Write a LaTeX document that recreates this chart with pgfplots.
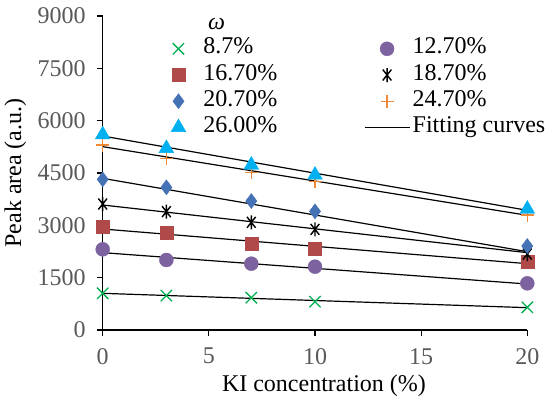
\documentclass[border=0pt]{standalone}
\usepackage{fontspec}
\setmainfont{Liberation Serif}
\usepackage{pgfplots}
\pgfplotsset{compat=1.18}
\definecolor{cgreen}{HTML}{00B050}
\definecolor{cpurple}{HTML}{7D62A0}
\definecolor{cred}{HTML}{B04A48}
\definecolor{cblue}{HTML}{4572B5}
\definecolor{ccyan}{HTML}{00B0F0}
\definecolor{corange}{HTML}{F08A3A}
\definecolor{tickgray}{HTML}{595959}
\newcommand{\fs}{\fontsize{24bp}{28bp}\selectfont}
\pgfdeclareplotmark{xast}{%
  \pgfpathmoveto{\pgfqpoint{0pt}{\pgfplotmarksize}}%
  \pgfpathlineto{\pgfqpoint{0pt}{-\pgfplotmarksize}}%
  \pgfpathmoveto{\pgfqpoint{-0.62\pgfplotmarksize}{-0.78\pgfplotmarksize}}%
  \pgfpathlineto{\pgfqpoint{0.62\pgfplotmarksize}{0.78\pgfplotmarksize}}%
  \pgfpathmoveto{\pgfqpoint{-0.62\pgfplotmarksize}{0.78\pgfplotmarksize}}%
  \pgfpathlineto{\pgfqpoint{0.62\pgfplotmarksize}{-0.78\pgfplotmarksize}}%
  \pgfusepathqstroke}
\pgfplotsset{
  mk/.style={only marks,
    legend image code/.code={\path[draw=none,fill=none] (0bp,0bp) -- (45bp,0bp);
      \draw[mark repeat=1] plot coordinates {(22.5bp,0bp)};}},
  fit/.style={black, line width=1.2bp, no marks, forget plot},
}
\begin{document}
\fs
\begin{tikzpicture}
\begin{axis}[
  name=ax, at={(0,0)}, anchor=south west,
  scale only axis, width=424.6bp, height=314bp,
  xmin=0, xmax=20, ymin=0, ymax=9000,
  axis x line*=bottom, axis y line*=left,
  axis line style={black, line width=1.2bp, -},
  xtick={0,5,10,15,20}, ytick={0,1500,3000,4500,6000,7500,9000},
  tick align=outside, major tick length=6bp,
  tick style={black, line width=1.2bp},
  tick label style={color=tickgray, font=\fs},
  /pgf/number format/assume math mode=true,
  /pgf/number format/1000 sep={},
  yticklabel style={xshift=-3bp},
  xticklabel style={yshift=-4bp},
  xlabel={KI concentration (\%)},
  ylabel={Peak area (a.u.)},
  label style={font=\fs},
  xlabel style={yshift=6bp, xshift=9bp},
  ylabel style={yshift=-5bp},
  clip=false,
  legend columns=2,
  legend cell align=left,
  legend style={draw=none, fill=none, at={(axis description cs:0.125,0.928)}, anchor=north west,
    inner sep=0pt, row sep=6.2bp, font=\fs,
    nodes={inner xsep=2.5bp, inner ysep=0pt, text height=15bp, text depth=5bp},
    /tikz/every even column/.append style={column sep=84bp}},
]
\addplot[mk, mark=x, mark size=8bp, cgreen, line width=1.3bp] coordinates {(0,1051) (3,984) (7,927) (10,812) (20,650)};
\addlegendentry{8.7\%}
\addplot[mk, mark=*, mark size=7bp, cpurple, fill=cpurple] coordinates {(0,2312) (3,2006) (7,1901) (10,1815) (20,1338)};
\addlegendentry{12.70\%}
\addplot[mk, mark=square*, mark size=6.6bp, cred, fill=cred] coordinates {(0,2952) (3,2790) (7,2484) (10,2341) (20,1949)};
\addlegendentry{16.70\%}
\addplot[mk, mark=xast, mark size=7bp, black, line width=1.4bp] coordinates {(0,3611) (3,3392) (7,3086) (10,2885) (20,2178)};
\addlegendentry{18.70\%}
\addplot[mk, mark=diamond*, mark size=7.5bp, cblue, fill=cblue] coordinates {(0,4318) (3,4089) (7,3697) (10,3401) (20,2408)};
\addlegendentry{20.70\%}
\addplot[mk, mark=+, mark size=6.5bp, corange, line width=1.3bp] coordinates {(0,5302) (3,4920) (7,4519) (10,4252) (20,3296)};
\addlegendentry{24.70\%}
\addplot[mk, mark=triangle*, mark size=8.5bp, ccyan, fill=ccyan] coordinates {(0,5600) (3,5207) (7,4729) (10,4443) (20,3468)};
\addlegendentry{26.00\%}
\addplot[fit] coordinates {(0,1051) (20,640)};
\addplot[fit] coordinates {(0,2217) (20,1318)};
\addplot[fit] coordinates {(0,2895) (20,1901)};
\addplot[fit] coordinates {(0,3583) (20,2217)};
\addplot[fit] coordinates {(0,4347) (20,2245)};
\addplot[fit] coordinates {(0,5255) (20,3287)};
\addplot[black, line width=1.2bp, no marks,
  legend image code/.code={\draw[black, line width=1.2bp] (0bp,0bp) -- (45bp,0bp);}]
  coordinates {(0,5560) (20,3430)};
\addlegendentry{Fitting curves}
\node[font=\fs\itshape] at (axis cs:5.37,8780) {ω};
\end{axis}
\pgfresetboundingbox
\path (ax.south west) ++(-102.7bp,-70bp) rectangle ++(550bp,400bp);
\end{tikzpicture}
\end{document}
